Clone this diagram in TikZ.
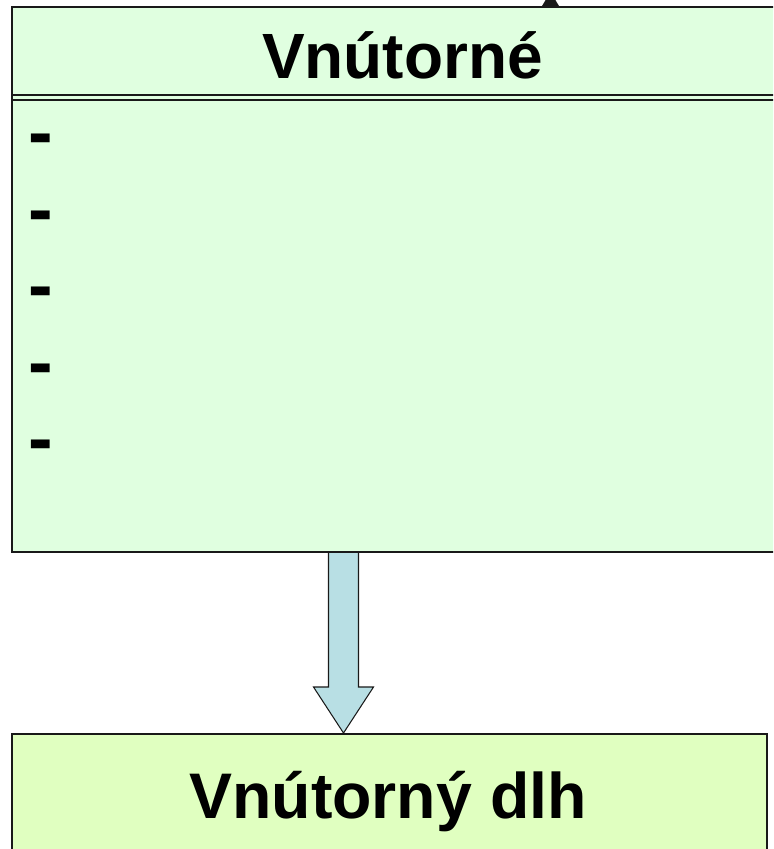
\documentclass[tikz,border=0pt]{standalone}
\usepackage{fontspec}
\setmainfont{Liberation Sans}
\usepackage{tikz}
\usetikzlibrary{calc}

\definecolor{innerfill}{RGB}{224,255,224}
\definecolor{debtfill}{RGB}{224,255,192}
\definecolor{arrowfill}{RGB}{184,223,228}
\newlength\pxunit
\setlength\pxunit{0.03cm}

\begin{document}
\begin{tikzpicture}[x=0.03cm, y=-0.03cm,
    box/.style={draw=black!90, line width=1.7pt, inner sep=0pt, anchor=north west},
    title/.style={font=\bfseries\fontsize{#1}{#1}\selectfont, inner sep=0pt, anchor=base},
    bullet/.style={font=\bfseries\fontsize{63}{63}\selectfont, inner sep=0pt, anchor=base west},
    blockarrow/.style={draw=black!90, line width=0.9pt, fill=arrowfill, line join=miter}]
    \useasboundingbox (0,0) rectangle (773,849);
    \clip (0,0) rectangle (773,849);

    % arrow leaving the upper box (only its tip shows)
    \fill[black!90] (542,6) -- (559,6) -- (550.5,-8) -- cycle;

    % block arrow between the two boxes
    \coordinate (arrtop) at (343.5,551);
    \coordinate (arrtip) at (343.5,733);
    \draw[blockarrow] ($(arrtop)+(-15,0)$) -- (328.5,687) -- (313.5,687) -- (arrtip)
        -- (373.5,687) -- (358.5,687) -- ($(arrtop)+(15,0)$) -- cycle;

    % upper box, cut at the right edge
    \node[box, fill=innerfill, minimum width=789\pxunit, minimum height=545\pxunit] (inner) at (11,6) {};
    \draw[draw=black!90, line width=1.7pt] (inner.west |- 0,95) -- (inner.east |- 0,95);
    \draw[draw=black!90, line width=1.7pt] (inner.west |- 0,99.8) -- (inner.east |- 0,99.8);
    \node[title=54.6] (innertitle) at (402.5,78.3) {Vnútorné};

    % empty list items
    \foreach \i in {0,...,4}
        \node[bullet] (item\i) at (28.7,157.6+76.5*\i) {-};

    % lower box, cut at the bottom edge
    \node[box, fill=debtfill, minimum width=755\pxunit, minimum height=130\pxunit] (debt) at (11,733) {};
    \node[title=55] (debttitle) at (388,818) {Vnútorný dlh};
\end{tikzpicture}
\end{document}
